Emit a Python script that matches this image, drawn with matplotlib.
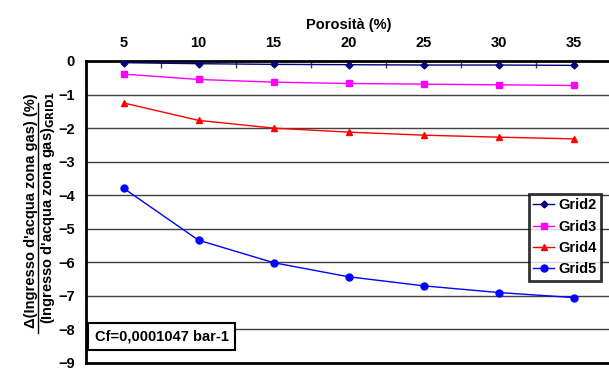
import numpy as np
import matplotlib.pyplot as plt
from matplotlib.lines import Line2D

plt.rcParams['font.family'] = ['Liberation Sans', 'DejaVu Sans']
plt.rcParams['font.weight'] = 'bold'

# porosity categories (%)
porosity = [5, 10, 15, 20, 25, 30, 35]

# relative difference in gas-zone water influx vs GRID1 (%)
grid2 = [-0.05, -0.08, -0.10, -0.11, -0.12, -0.12, -0.13]
grid3 = [-0.39, -0.55, -0.63, -0.67, -0.69, -0.71, -0.73]
grid4 = [-1.25, -1.77, -2.00, -2.12, -2.21, -2.27, -2.32]
grid5 = [-3.79, -5.34, -6.01, -6.43, -6.70, -6.90, -7.05]

series = [
    ('Grid2', grid2, '#000080', 'D', 3.5),
    ('Grid3', grid3, '#FF00FF', 's', 4.5),
    ('Grid4', grid4, '#FF0000', '^', 5),
    ('Grid5', grid5, '#0000FF', 'o', 5),
]

FS = 10.5

fig = plt.figure(figsize=(6.09, 3.72), dpi=100)
ax = fig.add_axes([86 / 609, 1 - 363 / 372, (611 - 86) / 609, (363 - 61) / 372])

for y in range(-8, 0):
    ax.axhline(y, color='#404040', lw=1, zorder=1)

for name, vals, col, mk, ms in series:
    ax.plot(porosity, vals, color=col, marker=mk, markersize=ms, lw=1,
            label=name, zorder=3)

ax.set_xlim(2.5, 37.5)
ax.set_ylim(-9, 0)
ax.set_yticks(range(-9, 1))
ax.set_xticks(porosity)
ax.set_xticks([7.5, 12.5, 17.5, 22.5, 27.5, 32.5], minor=True)
ax.xaxis.tick_top()
ax.xaxis.set_label_position('top')
ax.tick_params(axis='x', which='major', length=0, pad=8, labelsize=FS)
ax.tick_params(axis='x', which='minor', direction='in', length=5, width=1,
               color='#404040')
ax.tick_params(axis='y', length=0, pad=8, labelsize=FS)
for lbl in ax.get_xticklabels() + ax.get_yticklabels():
    lbl.set_fontweight('bold')

for side in ['top', 'left', 'bottom']:
    ax.spines[side].set_linewidth(2)
ax.spines['right'].set_visible(False)

ax.set_xlabel('Porosità (%)', fontsize=FS, fontweight='bold', labelpad=5)

# y label as a fraction
fig.text(31 / 609, 1 - 211 / 372, "Δ(Ingresso d'acqua zona gas) (%)",
         rotation=90, ha='center', va='center', fontsize=FS, fontweight='bold')
fig.text(48 / 609, 1 - 207 / 372, "(Ingresso d'acqua zona gas)$_{\\mathbf{GRID1}}$",
         rotation=90, ha='center', va='center', fontsize=FS, fontweight='bold')
fig.add_artist(Line2D([38 / 609, 38 / 609], [1 - 333 / 372, 1 - 103 / 372],
                      color='black', lw=1))

leg = ax.legend(loc='upper right', bbox_to_anchor=((601 - 86) / 525, 1 - (194 - 61) / 302),
                fontsize=FS, frameon=True, fancybox=False, borderpad=0.3,
                handlelength=1.4, handletextpad=0.3, labelspacing=0.5,
                borderaxespad=0)
leg.get_frame().set_edgecolor('black')
leg.get_frame().set_linewidth(2)
for t in leg.get_texts():
    t.set_fontweight('bold')

ax.text(0.017, 0.089, 'Cf=0,0001047 bar-1', transform=ax.transAxes,
        fontsize=FS, fontweight='bold', ha='left', va='center',
        bbox=dict(boxstyle='square,pad=0.45', fc='white', ec='black', lw=1.5))

fig.savefig('out.png', dpi=100)
